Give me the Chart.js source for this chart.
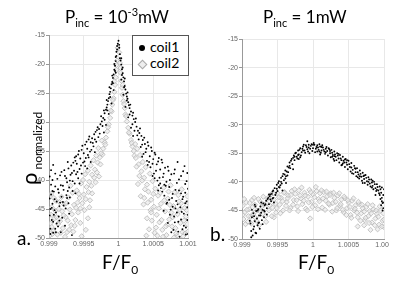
<!DOCTYPE html>
<html>
<head>
<meta charset="utf-8">
<script src="https://cdn.jsdelivr.net/npm/chart.js@4.4.1/dist/chart.umd.min.js"></script>
<style>
  body { margin: 0; width: 400px; height: 287px; background: #fff; position: relative; overflow: hidden; font-family: 'Lato', sans-serif; }
  .wrap { position: absolute; top: 0; height: 287px; overflow: hidden; }
  .txt { position: absolute; white-space: nowrap; color: #000; }
  .title { font-size: 17px; }
  .title sub, .title sup { font-size: 11px; }
  .xlab { font-size: 19px; }
  .xlab sub { font-size: 12px; }
  .panel { font-size: 19px; }
  .legend { position: absolute; left: 132px; top: 35px; width: 55px; height: 39px; border: 1px solid #555; background: #fff; font-size: 14px; }
  .legend div { position: absolute; left: 17px; }
  .dot { position: absolute; width: 6px; height: 6px; border-radius: 50%; background: #000; }
  .dia { position: absolute; width: 5px; height: 5px; border: 1px solid #aaa; background: #eee; transform: rotate(45deg); }
  .ylab { position: absolute; left: 19px; top: 185px; transform-origin: left top; transform: rotate(-90deg); white-space: nowrap; line-height: 20px; font-size: 22px; }
  .ylab sub { font-size: 12px; }
</style>
</head>
<body>
<div class="wrap" style="left:0;width:200px"><canvas id="chartA" width="200" height="287"></canvas></div>
<div class="wrap" style="left:200px;width:189px"><canvas id="chartB" width="200" height="287"></canvas></div>

<div class="txt title" style="left:65px;top:5px">P<sub>inc</sub> = 10<sup>-3</sup>mW</div>
<div class="txt title" style="left:263px;top:6px">P<sub>inc</sub> = 1mW</div>
<div class="txt xlab" style="left:102px;top:250px">F/F<sub>0</sub></div>
<div class="txt xlab" style="left:298px;top:250px">F/F<sub>0</sub></div>
<div class="txt panel" style="left:17px;top:226px">a.</div>
<div class="txt panel" style="left:210px;top:222px">b.</div>
<div class="ylab">ρ<sub> normalized</sub></div>
<div class="legend">
  <span class="dot" style="left:6px;top:9px"></span><div style="top:2px">coil1</div>
  <span class="dia" style="left:6px;top:25px"></span><div style="top:18px">coil2</div>
</div>

<script>
// tick values
const xTicks = [0.999, 0.9995, 1, 1.0005, 1.001];
const yTicks = [-50, -45, -40, -35, -30, -25, -20, -15];
const seriesNames = ['coil1', 'coil2'];

// panel a: P_inc = 1e-3 mW, [F/F0, rho]
const aCoil1 = [
  [0.99999,-16.5],[1.0,-16.0],[0.99998,-17.5],[1.00001,-17.2],[0.99997,-18.6],[1.00002,-18.3],[0.99996,-19.5],[1.00003,-19.4],
  [0.99995,-20.3],[1.00004,-20.1],[0.99994,-21.0],[1.00005,-20.9],[0.99993,-21.8],[1.00006,-21.6],[0.99992,-22.4],[1.00007,-22.3],
  [0.99991,-23.1],[1.00008,-23.0],[0.9999,-23.5],[1.00009,-23.8],[0.99989,-24.2],[1.0001,-24.4],[0.99988,-24.8],[1.00011,-25.1],
  [0.99987,-25.2],[1.00012,-25.6],[0.99986,-25.9],[1.00013,-26.0],[0.99985,-26.4],[1.00014,-26.6],[0.99984,-27.0],[1.00015,-27.1],
  [0.99983,-27.5],[1.00016,-27.6],[0.99982,-27.9],[1.00018,-28.2],[0.9998,-28.5],[1.0002,-28.9],[0.99978,-29.3],[1.00022,-29.5],
  [0.99976,-29.9],[1.00024,-30.0],[0.99974,-30.4],[1.00026,-30.8],
  [0.99996,-21.5],[1.00004,-22.7],[0.99993,-24.5],[1.00007,-25.3],[0.9999,-26.8],[1.0001,-27.4],[0.99986,-28.6],[1.00014,-29.2],
  [0.99982,-30.5],[1.00018,-31.0],[0.99979,-31.8],[1.00021,-32.4],
  [0.99997,-17.9],[1.00002,-19.0],[0.99995,-21.2],[1.00005,-21.9],[0.99992,-23.3],[1.00008,-24.0],[0.99988,-25.7],[1.00012,-26.3],
  [0.99984,-28.0],[1.00016,-28.7],[0.9998,-29.6],[1.0002,-30.4],[0.99977,-30.7],[1.00023,-31.5],
  [0.99998,-16.9],[1.00001,-16.7],[0.99996,-18.8],[1.00004,-19.0],[0.99994,-20.0],[1.00006,-20.6],[0.99991,-22.0],[1.00009,-22.5],
  [0.99987,-24.0],[1.00013,-24.9],[0.99983,-26.2],[1.00017,-27.0],[0.99979,-28.0],[1.00021,-28.4],[0.99975,-29.0],[1.00025,-29.4],
  [0.99972,-31.2],[0.99971,-32.6],[0.9997,-30.9],[0.99968,-33.4],[0.99967,-31.7],[0.99965,-32.1],[0.99964,-34.2],[0.99962,-32.8],
  [0.9996,-33.5],[0.99959,-35.1],[0.99957,-33.0],[0.99955,-34.6],[0.99953,-36.2],[0.99952,-33.9],[0.9995,-35.4],[0.99949,-37.0],
  [0.99947,-34.8],[0.99945,-36.3],[0.99944,-38.1],[0.99942,-35.6],[0.9994,-37.2],[0.99939,-39.0],[0.99937,-36.1],[0.99936,-38.4],
  [0.99973,-32.0],[0.99969,-31.4],[0.99966,-33.0],[0.99963,-33.6],[0.99961,-34.8],[0.99958,-32.5],[0.99956,-35.7],[0.99954,-33.4],
  [0.99951,-36.8],[0.99948,-34.1],[0.99946,-37.5],[0.99943,-35.0],[0.99941,-38.6],[0.99938,-36.7],[0.99957,-36.1],[0.99952,-37.6],
  [0.99947,-38.9],[0.99942,-39.7],[0.99966,-35.2],[0.9996,-36.9],[0.99955,-38.0],[0.99944,-40.6],[0.99938,-42.3],
  [0.99934,-40.2],[0.99932,-37.5],[0.99931,-39.1],[0.99929,-41.3],[0.99928,-38.0],[0.99926,-40.4],[0.99925,-42.6],[0.99923,-39.3],
  [0.99921,-41.7],[0.9992,-43.8],[0.99918,-38.6],[0.99917,-40.9],[0.99915,-44.5],[0.99914,-42.2],[0.99912,-39.8],[0.9991,-45.6],
  [0.99909,-41.1],[0.99908,-43.3],[0.99906,-47.2],[0.99905,-40.0],[0.99904,-44.8],[0.99903,-42.5],[0.99902,-48.4],[0.99901,-46.1],
  [0.99901,-39.4],[0.99902,-49.3],[0.99907,-46.0],[0.99913,-48.0],[0.99919,-46.5],[0.99924,-44.9],[0.9993,-43.0],[0.99933,-49.5],
  [0.99906,-37.4],[0.99939,-35.9],[0.99928,-44.0],[0.99915,-47.0],[0.9991,-49.0],[0.99903,-38.3],[0.99927,-41.9],
  [0.99935,-37.0],[0.99933,-38.8],[0.9993,-40.1],[0.99927,-36.9],[0.99925,-39.7],[0.99922,-38.3],[0.9992,-41.0],[0.99918,-42.9],
  [0.99916,-39.2],[0.99913,-41.6],[0.99911,-43.7],[0.99909,-38.9],[0.99907,-42.0],[0.99905,-44.1],[0.99903,-40.8],[0.99901,-43.2],
  [0.99904,-46.9],[0.99908,-45.2],[0.99911,-47.5],[0.99914,-46.3],[0.99916,-43.9],[0.99921,-44.4],[0.99926,-43.1],[0.99929,-45.8],
  [0.99934,-41.9],[0.99937,-40.6],[0.99902,-45.0],[0.99906,-49.1],[0.99909,-48.4],[0.99917,-49.0],[0.99923,-47.9],[0.99905,-41.9],
  [1.00028,-31.5],[1.00029,-33.0],[1.0003,-31.9],[1.00032,-34.3],[1.00033,-32.4],[1.00035,-33.1],[1.00036,-35.5],[1.00038,-33.8],
  [1.0004,-34.6],[1.00041,-36.7],[1.00043,-34.1],[1.00045,-35.9],[1.00046,-37.8],[1.00048,-35.0],[1.0005,-36.4],[1.00051,-38.9],
  [1.00053,-35.6],[1.00055,-37.3],[1.00056,-40.1],[1.00058,-36.2],[1.0006,-38.2],[1.00061,-41.4],
  [1.00027,-32.3],[1.00031,-31.1],[1.00034,-33.9],[1.00037,-32.7],[1.00039,-35.2],[1.00042,-33.5],[1.00044,-36.9],[1.00047,-34.4],
  [1.00049,-37.2],[1.00052,-35.3],[1.00054,-38.4],[1.00057,-36.8],[1.00059,-39.6],[1.00062,-36.5],[1.00057,-41.8],[1.00052,-39.7],
  [1.00034,-36.0],[1.00042,-37.4],[1.00049,-39.3],[1.00058,-40.9],
  [1.00063,-37.0],[1.00064,-39.5],[1.00066,-42.7],[1.00067,-37.9],[1.00069,-40.3],[1.0007,-43.9],[1.00072,-38.4],[1.00073,-41.2],
  [1.00075,-45.1],[1.00076,-39.0],[1.00078,-42.4],[1.0008,-46.3],[1.00081,-38.2],[1.00083,-43.6],[1.00084,-40.5],[1.00086,-47.2],
  [1.00087,-41.8],[1.00089,-44.7],[1.0009,-39.3],[1.00092,-48.5],[1.00093,-42.9],[1.00094,-45.8],[1.00095,-37.6],[1.00096,-40.7],
  [1.00097,-49.4],[1.00098,-43.7],[1.00099,-46.9],[1.001,-41.5],[1.00088,-49.8],[1.00079,-48.6],[1.00071,-47.4],[1.00065,-45.3],
  [1.00085,-36.9],[1.00066,-40.8],[1.00073,-43.4],[1.00082,-44.9],[1.00092,-43.3],[1.00096,-42.2],[1.00099,-44.7],
  [1.00065,-38.9],[1.00068,-41.0],[1.00071,-37.7],[1.00074,-40.0],[1.00077,-43.1],[1.0008,-38.9],[1.00082,-41.7],[1.00085,-44.2],
  [1.00087,-39.9],[1.0009,-42.3],[1.00091,-45.5],[1.00093,-38.5],[1.00096,-44.0],[1.00098,-40.2],[1.001,-46.0],[1.00099,-38.8],
  [1.00094,-47.9],[1.0009,-46.8],[1.00084,-45.6],[1.00078,-44.6],[1.00074,-46.0],[1.00069,-44.1],[1.00063,-42.0],[1.0006,-40.6],
  [1.00097,-48.2],[1.001,-49.3],[1.00086,-48.9],[1.00081,-47.3],[1.00076,-49.0]
];
const aCoil2 = [
  [0.99999,-17.2],[1.00001,-18.0],[0.99998,-19.4],[1.00002,-19.8],[0.99997,-21.0],[1.00003,-21.5],[0.99996,-22.3],[1.00004,-22.9],
  [0.99995,-23.6],[1.00005,-24.1],[0.99994,-24.8],[1.00006,-25.3],[0.99993,-25.9],[1.00007,-26.4],[0.99991,-27.0],[1.00009,-27.6],
  [0.9999,-28.2],[1.0001,-28.7],[0.99988,-29.3],[1.00012,-29.9],[0.99986,-30.4],[1.00014,-31.0],[0.99984,-31.6],[1.00016,-32.0],
  [0.99982,-32.7],[1.00018,-33.1],[0.9998,-33.5],[1.0002,-34.2],
  [0.99997,-20.2],[1.00003,-20.7],[0.99994,-23.0],[1.00006,-23.6],[0.99992,-26.2],[1.00008,-26.9],[0.99989,-28.0],[1.00011,-29.0],
  [0.99985,-30.9],[1.00015,-31.8],[0.99981,-33.9],[1.00019,-33.6],[0.99977,-35.6],[1.00023,-35.8],
  [0.99978,-34.6],[0.99976,-33.2],[0.99975,-35.4],[0.99973,-36.1],[0.99971,-34.5],[0.9997,-37.0],[0.99968,-35.8],[0.99966,-38.2],
  [0.99964,-36.6],[0.99962,-39.1],[0.9996,-37.5],[0.99958,-40.3],[0.99956,-38.4],[0.99954,-41.2],[0.99952,-39.0],[0.9995,-42.5],
  [0.99948,-44.0],[0.99946,-40.6],[0.99944,-43.1],[0.99942,-45.6],[0.9994,-41.8],[0.99938,-46.9],[0.99936,-44.3],[0.99934,-42.2],
  [0.99932,-47.8],[0.9993,-45.1],[0.99928,-43.0],[0.99926,-49.0],[0.99924,-46.4],[0.99922,-44.2],[0.9992,-48.3],[0.99918,-42.9],
  [0.99916,-47.1],[0.99914,-45.0],[0.99912,-49.4],[0.9991,-43.6],[0.99908,-46.6],[0.99906,-48.8],[0.99904,-44.7],[0.99902,-47.5],
  [0.99901,-49.6],[0.99903,-42.4],[0.99956,-46.6],
  [0.99974,-37.3],[0.99969,-38.7],[0.99965,-39.6],[0.99961,-41.0],[0.99957,-42.1],[0.99953,-43.3],[0.99949,-40.0],[0.99945,-44.9],
  [0.99941,-43.9],[0.99937,-47.9],[0.99933,-45.9],[0.99929,-48.6],[0.99925,-44.0],[0.99921,-46.1],[0.99917,-49.1],[0.99913,-47.6],
  [0.99909,-45.3],[0.99905,-49.3],[0.99903,-46.0],[0.99907,-43.1],[0.99919,-45.4],[0.99931,-41.0],[0.99943,-42.4],[0.99951,-45.2],
  [0.99959,-43.5],[0.99953,-48.6],[0.99947,-49.7],
  [0.99935,-48.9],[0.99939,-44.8],[0.99927,-47.0],[0.99915,-43.8],[0.99911,-46.4],[0.99904,-48.1],[0.99923,-49.8],[0.99945,-47.4],
  [0.99958,-44.7],[0.99962,-42.3],[0.99967,-40.4],[0.99972,-39.4],
  [1.00022,-35.0],[1.00024,-33.8],[1.00025,-36.2],[1.00027,-34.6],[1.00029,-37.3],[1.00031,-35.7],[1.00033,-38.5],[1.00035,-36.9],
  [1.00037,-39.6],[1.00039,-37.8],[1.00041,-40.8],[1.00043,-42.0],[1.00045,-38.9],[1.00047,-43.4],[1.00049,-40.2],[1.00051,-44.6],
  [1.00053,-41.5],[1.00055,-46.0],[1.00057,-42.7],[1.00059,-47.3],[1.00044,-48.5],[1.0004,-49.6],[1.00048,-47.0],
  [1.00026,-37.7],[1.0003,-39.3],[1.00034,-40.1],[1.00038,-41.6],[1.00042,-43.9],[1.00046,-45.2],[1.0005,-42.4],[1.00054,-48.2],
  [1.00058,-44.9],[1.00062,-46.9],[1.00066,-43.5],[1.0007,-47.7],[1.00074,-44.3],[1.00078,-46.4],[1.00082,-48.3],[1.00086,-42.6],
  [1.0009,-44.0],[1.00094,-47.0],[1.00098,-45.2],[1.001,-43.9],[1.00092,-49.0],[1.00084,-49.6],[1.00064,-49.8],[1.00052,-49.1],
  [1.00047,-45.6],[1.00036,-44.2],
  [1.00028,-40.7],[1.00032,-42.8],[1.00037,-43.1],[1.00041,-46.6],[1.00056,-49.6],[1.0006,-42.2],[1.00068,-48.0],[1.00076,-45.6],
  [1.0008,-49.9],[1.00088,-45.1],[1.00096,-49.2],[1.00099,-47.6],[1.00072,-42.0],
  [1.00061,-44.1],[1.00063,-48.6],[1.00065,-41.3],[1.00067,-45.4],[1.00069,-49.5],[1.00071,-43.2],[1.00073,-46.8],[1.00075,-40.9],
  [1.00077,-48.0],[1.00079,-44.5],[1.00081,-42.1],[1.00083,-49.2],[1.00085,-45.9],[1.00087,-43.7],[1.00089,-47.4],[1.00091,-41.6],
  [1.00093,-49.7],[1.00095,-44.8],[1.00097,-46.3],[1.00099,-42.8],[1.001,-48.9]
];

// panel b: P_inc = 1 mW
const bCoil1 = [
  [0.99912,-47.3],[0.99913,-48.6],[0.99914,-46.2],[0.99915,-49.4],[0.99916,-45.5],[0.99917,-47.8],[0.99918,-46.9],[0.99919,-48.9],
  [0.9992,-45.1],[0.99921,-46.4],[0.99922,-47.6],[0.99923,-44.8],[0.99924,-45.9],[0.99925,-48.2],[0.99926,-44.3],[0.99927,-45.4],
  [0.99928,-46.7],[0.9993,-43.8],[0.99931,-45.0],[0.99932,-44.1],[0.99934,-43.3],[0.99935,-44.6],[0.99937,-42.8],[0.99938,-43.9],
  [0.9994,-42.2],[0.99941,-43.4],[0.99943,-41.7],[0.99944,-42.8],[0.99946,-41.1],[0.99947,-42.3],[0.99949,-40.5],[0.9995,-41.6],
  [0.99952,-39.9],[0.99953,-41.0],[0.99955,-39.3],[0.99956,-40.3],[0.99958,-38.6],[0.99959,-39.7],[0.99961,-38.0],[0.99962,-39.0],
  [0.99964,-37.3],[0.99965,-38.3],[0.99967,-36.6],[0.99968,-37.6],[0.9997,-36.0],[0.99971,-36.9],[0.99973,-35.4],[0.99974,-36.2],
  [0.99976,-34.9],[0.99977,-35.6],[0.99979,-34.5],[0.9998,-35.2],[0.99982,-34.1],[0.99984,-34.8],[0.99986,-33.8],[0.99988,-34.5],
  [0.9999,-33.6],[0.99992,-34.3],[0.99994,-33.5],[0.99996,-34.2],[0.99998,-33.4],[1.0,-34.1],[1.00002,-33.5],[1.00004,-34.2],
  [1.00006,-33.6],[1.00008,-34.4],[1.0001,-33.8],[1.00012,-34.5],[1.00014,-34.0],[1.00016,-34.7],[1.00018,-34.2],
  [0.99911,-46.8],[0.99914,-44.9],[0.99917,-46.0],[0.99919,-44.3],[0.99922,-45.0],[0.99924,-47.1],[0.99927,-43.6],[0.99929,-44.9],
  [0.99933,-43.9],[0.99936,-43.0],[0.99939,-42.5],[0.99942,-42.1],[0.99944,-41.5],[0.99948,-41.9],[0.99951,-40.2],[0.99954,-40.6],
  [0.99957,-39.0],[0.9996,-38.7],[0.99963,-38.2],[0.99966,-37.5],[0.99969,-36.3],[0.99972,-35.8],[0.99975,-35.0],[0.99978,-35.9],
  [0.99981,-34.4],[0.99983,-35.4],[0.99985,-34.2],[0.99987,-33.5],[0.99989,-34.9],[0.99991,-33.9],[0.99993,-34.7],[0.99997,-33.7],
  [0.99999,-34.6],[1.00001,-33.2],[1.00003,-34.8],[1.00005,-33.9],[1.00007,-34.0],[1.00009,-33.4],[1.00011,-34.9],[1.00013,-33.6],
  [1.00015,-34.4],[1.00017,-35.1],[1.00019,-33.9],
  [0.99926,-45.9],[0.99932,-45.2],[0.99938,-42.2],[0.99943,-42.9],[0.99949,-41.2],[0.99955,-40.0],[0.99961,-39.4],[0.99967,-37.2],
  [0.99974,-35.6],[0.99979,-35.3],[0.99986,-34.5],[0.99994,-34.0],[1.0,-33.5],[1.00006,-34.7],[1.00012,-33.9],[1.00018,-34.8],
  [0.99982,-35.7],[0.99964,-38.9],[0.99952,-40.9],[0.9994,-43.1],[0.99931,-46.2],[1.00009,-34.7],
  [0.99913,-49.7],[0.99916,-48.3],[0.9992,-49.0],[0.99923,-47.2],[0.99929,-47.4],[0.99918,-44.0],
  [0.99957,-41.5],[0.99962,-40.2],[0.99945,-43.6],[0.99935,-45.7],[0.9998,-36.0],[0.99972,-37.8],[1.0001,-35.2],[0.99995,-35.0],
  [1.0003,-36.3],[0.99992,-32.9],
  [1.0002,-34.6],[1.00022,-34.1],[1.00024,-35.0],[1.00026,-34.4],[1.00028,-35.3],[1.0003,-34.7],[1.00032,-35.6],[1.00034,-35.0],
  [1.00036,-35.9],[1.00038,-35.3],[1.0004,-36.2],[1.00042,-35.6],[1.00044,-36.6],[1.00046,-36.0],[1.00048,-37.0],[1.0005,-36.3],
  [1.00052,-37.4],[1.00054,-36.7],[1.00056,-37.9],[1.00058,-37.2],[1.0006,-38.3],[1.00062,-37.6],[1.00064,-38.7],[1.00066,-38.0],
  [1.00068,-39.1],[1.0007,-38.4],[1.00072,-39.5],[1.00074,-38.8],[1.00076,-39.9],[1.00078,-39.2],[1.0008,-40.3],[1.00082,-39.6],
  [1.00084,-40.7],[1.00086,-40.0],[1.00088,-41.1],[1.0009,-40.4],[1.00092,-41.5],[1.00094,-40.8],[1.00096,-41.9],[1.00097,-42.8],
  [1.00098,-43.7],[1.00099,-44.6],[1.001,-41.3],[1.00095,-43.0],[1.00088,-42.3],[1.0007,-40.2],[1.00055,-38.5],[1.0004,-37.1],
  [1.00021,-35.4],[1.00023,-34.3],[1.00025,-35.7],[1.00027,-34.9],[1.00029,-36.0],[1.00031,-35.2],[1.00033,-36.2],[1.00035,-35.4],
  [1.00037,-36.6],[1.00039,-35.9],[1.00041,-37.0],[1.00043,-36.3],[1.00045,-37.4],[1.00047,-36.6],[1.00049,-37.8],[1.00051,-36.9],
  [1.00053,-38.2],[1.00057,-38.6],[1.00059,-37.6],[1.00061,-39.0],[1.00063,-38.3],[1.00065,-39.4],[1.00067,-38.6],[1.00069,-39.8],
  [1.00071,-39.0],[1.00073,-40.2],[1.00075,-39.3],[1.00077,-40.5],[1.00079,-39.6],[1.00081,-40.8],[1.00083,-40.1],[1.00085,-41.3],
  [1.00087,-40.4],[1.00089,-41.6],[1.00091,-40.9],[1.00093,-42.0],[1.00095,-41.3],[1.00097,-41.0],[1.00099,-42.3],[1.001,-43.6],
  [1.00098,-45.0],[1.00096,-44.1],
  [1.00024,-34.6],[1.0003,-35.5],[1.00036,-35.1],[1.00042,-36.8],[1.00048,-36.2],[1.00054,-37.5],[1.0006,-37.7],[1.00066,-39.0],
  [1.00072,-38.9],[1.00078,-40.0],[1.00084,-39.8],[1.0009,-41.4],[1.00094,-42.3],[1.00097,-43.4],[1.00083,-41.0],[1.00063,-39.2],
  [1.00045,-36.1],[1.00027,-35.6]
];
const bCoil2 = [
  [0.99901,-44.2],[0.99902,-46.5],[0.99904,-45.3],[0.99906,-43.6],[0.99908,-47.0],[0.9991,-44.8],[0.99912,-46.1],[0.99914,-43.2],
  [0.99916,-45.6],[0.99918,-44.0],[0.9992,-46.8],[0.99923,-43.0],[0.99925,-45.1],[0.99928,-44.3],[0.9993,-42.6],[0.99933,-46.0],
  [0.99935,-43.8],[0.99938,-45.0],[0.9994,-42.3],[0.99943,-44.5],[0.99945,-43.1],[0.99948,-45.4],[0.9995,-42.0],[0.99953,-44.0],
  [0.99955,-42.8],[0.99958,-45.0],[0.9996,-41.8],[0.99963,-43.5],[0.99965,-42.4],[0.99968,-44.6],[0.9997,-41.6],[0.99973,-43.2],
  [0.99975,-42.1],[0.99978,-44.3],[0.9998,-41.5],[0.99983,-42.9],[0.99985,-43.9],[0.99988,-41.9],[0.9999,-44.7],[0.99993,-42.6],
  [0.99995,-41.4],[0.99998,-43.5],[1.0,-42.2],[1.00003,-44.1],[1.00005,-41.6],[1.00008,-43.0],[1.0001,-42.0],[1.00013,-44.5],
  [1.00015,-41.8],[1.00018,-43.3],[1.0002,-42.5],[1.00023,-44.0],[1.00025,-42.0],[1.00028,-43.7],[1.0003,-42.8],[1.00033,-45.0],
  [1.00035,-42.4],[1.00038,-44.2],[1.0004,-43.1],[1.00043,-45.3],[1.00045,-42.9],[1.00048,-44.6],[1.0005,-43.6],[1.00053,-45.8],
  [1.00055,-43.3],[1.00058,-45.0],[1.0006,-44.1],[1.00063,-46.2],[1.00065,-43.9],[1.00068,-45.5],[1.0007,-44.6],[1.00073,-46.7],
  [1.00075,-44.4],[1.00078,-46.0],[1.0008,-45.1],[1.00083,-47.1],[1.00085,-44.8],[1.00088,-46.4],[1.0009,-45.6],[1.00093,-47.5],
  [1.00095,-45.0],[1.00098,-46.8],[1.001,-47.9],[0.99945,-46.2],[1.00072,-47.6],
  [0.99901,-45.8],[0.99903,-43.0],[0.99905,-47.4],[0.99907,-44.9],[0.99909,-46.0],[0.99911,-43.7],[0.99913,-47.3],[0.99915,-44.4],
  [0.99917,-42.8],[0.99919,-46.3],[0.99921,-45.0],[0.99924,-47.6],[0.99926,-43.5],[0.99929,-45.6],[0.99931,-44.0],[0.99934,-47.0],
  [0.99936,-42.9],[0.99939,-44.1],[0.99942,-46.0],[0.99944,-42.0],[0.99947,-43.8],[0.99949,-44.6],[0.99952,-42.7],[0.99954,-45.5],
  [0.99957,-43.4],[0.99959,-41.9],[0.99962,-44.2],[0.99964,-42.9],[0.99967,-45.0],[0.99969,-42.3],[0.99972,-44.0],[0.99974,-41.3],
  [0.99977,-43.2],[0.99979,-45.1],[0.99982,-42.4],[0.99984,-41.0],[0.99987,-43.3],[0.99989,-42.4],[0.99992,-45.0],[0.99994,-43.6],
  [0.99997,-41.8],[0.99999,-44.4],[1.00002,-42.7],[1.00004,-40.9],[1.00007,-44.8],[1.00009,-43.4],[1.00012,-41.5],[1.00014,-42.9],
  [1.00017,-44.9],[1.00019,-41.7],[1.00022,-43.8],[1.00024,-42.3],[1.00027,-45.2],[1.00029,-41.9],[1.00032,-43.5],[1.00034,-44.6],
  [1.00037,-42.0],[1.00039,-43.9],[1.00042,-44.9],[1.00044,-42.6],[1.00047,-45.8],[1.00049,-43.2],[1.00052,-44.4],[1.00054,-46.3],
  [1.00057,-42.9],[1.00059,-44.7],[1.00062,-45.4],[1.00064,-43.5],[1.00067,-46.8],[1.00069,-44.0],[1.00072,-45.2],[1.00074,-46.3],
  [1.00077,-43.9],[1.00079,-47.2],[1.00082,-45.5],[1.00084,-44.1],[1.00087,-47.6],[1.00089,-45.0],[1.00092,-46.1],[1.00094,-44.3],
  [1.00097,-47.8],[1.00099,-45.5],[1.001,-46.6],[1.00091,-48.3],[1.00081,-48.4],[0.99996,-46.4],[1.00063,-47.8]
];

Chart.defaults.font.family = 'Liberation Sans';
Chart.defaults.color = '#666';

function toPoints(pairs) {
  return pairs.map(p => ({ x: p[0], y: p[1] }));
}

function makeChart(id, coil1, coil2, padding) {
  const ctx = document.getElementById(id).getContext('2d');
  return new Chart(ctx, {
    type: 'scatter',
    data: {
      datasets: [{
        label: seriesNames[0],
        data: toPoints(coil1),
        pointStyle: 'circle',
        pointRadius: 0.95,
        borderWidth: 0,
        backgroundColor: '#000'
      }, {
        label: seriesNames[1],
        data: toPoints(coil2),
        pointStyle: 'rectRot',
        pointRadius: 2.6,
        borderWidth: 0.8,
        borderColor: '#b8b8b8',
        backgroundColor: 'rgba(230,230,230,0.6)'
      }]
    },
    options: {
      responsive: false,
      animation: false,
      devicePixelRatio: 1,
      layout: { padding },
      plugins: {
        legend: { display: false },
        tooltip: { enabled: false }
      },
      scales: {
        x: {
          type: 'linear',
          min: 0.999,
          max: 1.001,
          afterBuildTicks: s => { s.ticks = xTicks.map(v => ({ value: v })); },
          afterFit: s => { s.height = 12; },
          ticks: {
            font: { size: 7 },
            color: '#666',
            padding: 2,
            maxRotation: 0,
            callback: v => String(Number(v.toFixed(4)))
          },
          grid: { color: '#e8e8e8', drawTicks: false },
          border: { color: '#999' }
        },
        y: {
          min: -50,
          max: -15,
          afterBuildTicks: s => { s.ticks = yTicks.map(v => ({ value: v })); },
          afterFit: s => { s.width = 30; },
          ticks: {
            font: { size: 7 },
            color: '#666',
            padding: 1
          },
          grid: { color: '#e8e8e8', tickLength: 3, tickColor: '#999' },
          border: { color: '#999' }
        }
      }
    }
  });
}

makeChart('chartA', aCoil1, aCoil2, { left: 19, top: 35, right: 12, bottom: 37 });
makeChart('chartB', bCoil1, bCoil2, { left: 12, top: 39, right: 16, bottom: 36 });
</script>
</body>
</html>
